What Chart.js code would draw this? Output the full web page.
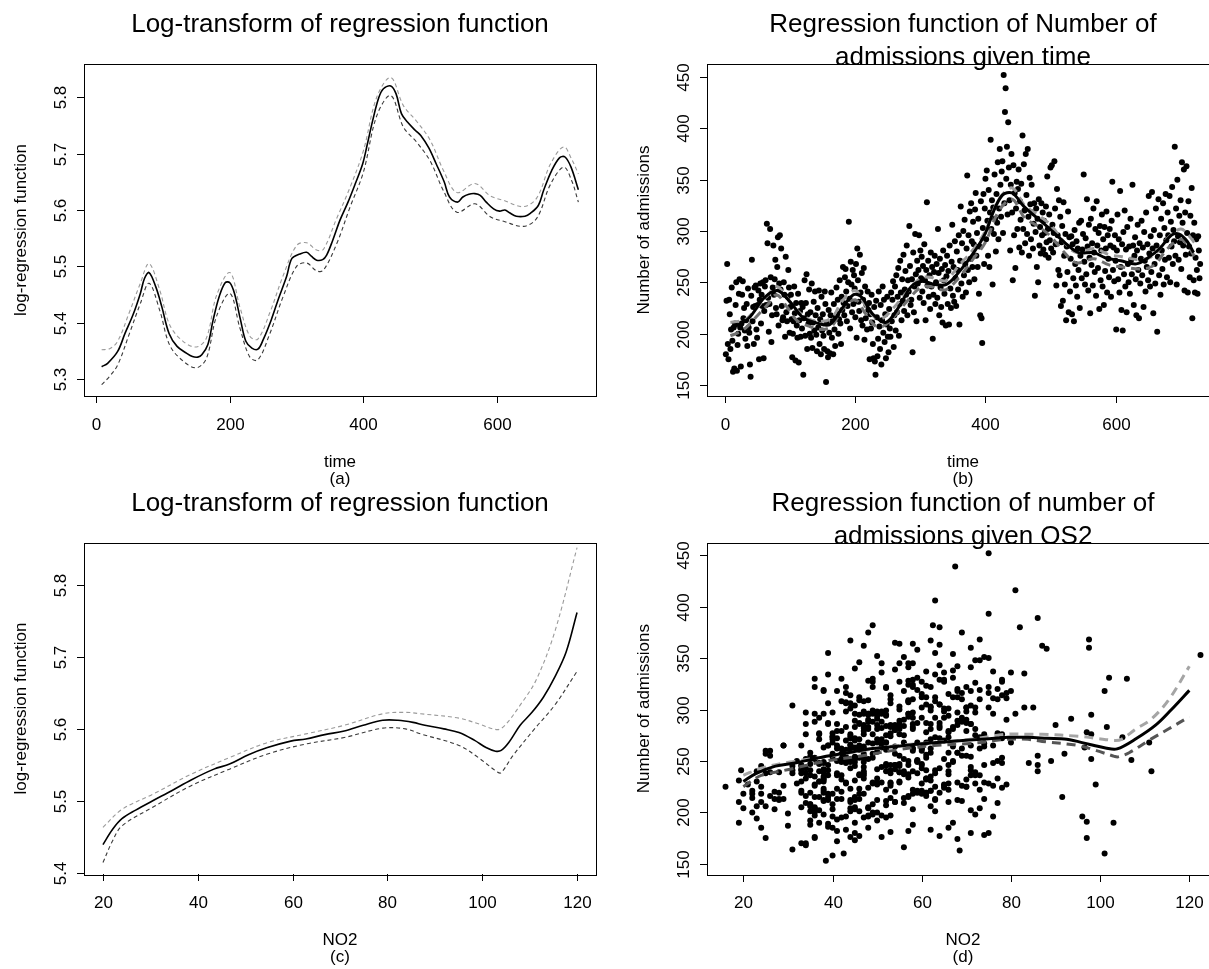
<!DOCTYPE html>
<html><head><meta charset="utf-8">
<script src="https://cdn.jsdelivr.net/npm/chart.js@4.4.1/dist/chart.umd.min.js"></script>
<style>
html,body{margin:0;padding:0;background:#fff;overflow:hidden;}
#wrap{position:relative;width:1209px;height:969px;overflow:hidden;background:#fff;}
canvas{position:absolute;left:0;top:0;}
</style></head>
<body><div id="wrap">
<canvas id="pa" width="1230" height="969"></canvas>
<canvas id="pb" width="1230" height="969"></canvas>
<canvas id="pc" width="1230" height="969"></canvas>
<canvas id="pd" width="1230" height="969"></canvas>
</div>
<script>
// ---------- tick labels ----------
const timeTicks = [0, 200, 400, 600];
const no2Ticks = [20, 40, 60, 80, 100, 120];
const logTicksA = [5.3, 5.4, 5.5, 5.6, 5.7, 5.8];
const logTicksC = [5.4, 5.5, 5.6, 5.7, 5.8];
const admTicks = [150, 200, 250, 300, 350, 400, 450];

// ---------- panel (a): log regression function vs time ----------
const aTime = [8,17,32,43,55,66,72,79,89,98,109,121,135,144,152,158,167,175,184,193,200,207,216,224,233,242,250,262,273,285,293,305,315,322,330,339,345,354,365,377,388,399,406,414,423,430,441,449,457,466,478,486,498,509,521,529,541,549,558,567,575,584,595,604,612,619,629,642,650,662,670,682,694,702,711,722];
const aFit = [5.322,5.328,5.349,5.381,5.414,5.452,5.478,5.489,5.464,5.429,5.381,5.358,5.346,5.340,5.339,5.343,5.361,5.405,5.446,5.471,5.471,5.452,5.405,5.367,5.355,5.353,5.370,5.405,5.443,5.482,5.514,5.522,5.525,5.518,5.511,5.512,5.520,5.546,5.582,5.614,5.647,5.682,5.717,5.759,5.799,5.815,5.820,5.806,5.771,5.756,5.741,5.732,5.710,5.682,5.650,5.623,5.614,5.623,5.628,5.629,5.626,5.614,5.602,5.598,5.600,5.595,5.589,5.589,5.594,5.608,5.635,5.670,5.693,5.694,5.676,5.636];
const bandTime = [8,20,32,50,66,79,95,110,130,150,165,180,200,215,230,242,260,280,300,315,330,340,360,380,400,420,441,460,480,500,520,540,567,590,610,640,660,680,700,712,722];
const aUpper = [5.352,5.354,5.367,5.420,5.470,5.505,5.458,5.396,5.367,5.357,5.373,5.448,5.489,5.428,5.376,5.371,5.418,5.484,5.537,5.542,5.529,5.530,5.585,5.640,5.705,5.800,5.835,5.785,5.757,5.724,5.670,5.631,5.647,5.625,5.617,5.606,5.622,5.681,5.712,5.690,5.664];
const aLower = [5.290,5.305,5.325,5.382,5.434,5.470,5.422,5.360,5.332,5.320,5.337,5.411,5.452,5.391,5.339,5.334,5.381,5.447,5.500,5.506,5.492,5.493,5.540,5.605,5.667,5.767,5.803,5.747,5.720,5.687,5.634,5.596,5.611,5.588,5.580,5.571,5.586,5.645,5.676,5.652,5.614];

// ---------- panel (b): regression function of admissions vs time ----------
const bTime = [12,36,60,80,101,119,143,161,179,197,209,227,247,268,286,304,322,340,358,382,400,411,426,441,459,477,501,525,543,566,584,608,632,650,668,686,698,710,720];
const bFit = [206,215,235,242,230,216,210,209,224,238,236,219,211,227,246,251,248,248,259,279,298,317,335,337,324,314,301,287,279,279,274,271,268,274,283,296,297,290,279];
const bUpper = [211,212,214,226,238,246,235,223,214,212,216,232,242,228,216,215,226,241,254,255,252,252,267,281,300,330,342,325,316,306,290,279,283,277,275,272,277,293,302,296,288];
const bLower = [198,201,206,218,229,238,226,213,207,204,208,224,233,220,208,207,217,232,245,246,243,243,255,272,289,319,331,313,305,295,280,269,273,267,265,263,267,283,292,285,274];

// daily number of admissions (day 1..730)
const admissions = [
180,232,268,190,175,233,219,185,204,245, 193,163,206,166,210,228,250,164,189,200,
239,253,206,168,210,238,251,215,225,203, 195,213,229,188,244,206,201,170,158,237,
272,212,226,190,245,227,247,204,196,228, 242,175,233,249,210,238,227,250,176,222,
246,252,228,307,288,235,202,229,302,255, 192,218,245,286,238,253,272,225,219,265,
294,208,249,296,243,283,227,213,216,250, 238,197,275,221,212,236,262,245,201,226,
238,214,177,200,212,246,220,174,230,208, 196,239,172,213,222,197,230,205,226,160,
215,252,198,230,258,185,219,210,243,200, 221,196,249,186,211,231,203,241,218,199,
183,225,206,242,190,214,180,236,203,219, 198,185,241,229,153,210,183,177,223,201,
181,218,240,196,212,180,229,204,188,216, 245,219,233,200,214,252,210,190,236,223,
265,230,218,255,263,241,212,227,250,309, 234,205,270,248,221,262,229,257,244,216,
268,196,283,252,231,222,277,240,213,259, 208,233,264,194,246,215,228,204,241,223,
230,175,219,205,238,211,190,176,226,173, 160,232,216,178,195,241,207,185,228,170,
213,246,201,233,192,219,176,209,236,197, 182,224,205,197,240,212,233,251,187,218,
246,203,257,221,236,264,198,229,271,240, 213,253,232,277,222,243,261,238,286,218,
252,241,305,266,228,233,253,182,279,221, 246,297,258,212,271,249,262,296,235,281,
254,275,241,266,230,287,252,213,262,328, 247,271,236,257,224,279,246,265,195,238,
260,276,229,250,268,235,302,259,218,273, 245,226,263,211,281,252,239,267,208,256,
276,229,261,209,286,244,225,270,306,237, 265,231,290,254,227,280,262,243,296,209,
271,324,249,288,236,300,257,311,268,240, 283,354,262,296,250,319,273,327,290,265,
309,287,253,321,337,276,298,265,312,239, 285,218,329,215,191,303,336,268,322,351,
292,359,310,276,340,265,318,389,302,330, 248,323,297,355,312,280,336,308,367,292,
322,380,345,314,358,368,298,452,327,416, 439,351,382,316,406,362,330,281,345,375,
318,252,364,296,337,264,322,348,302,341, 360,284,329,311,346,279,393,302,365,320,
288,375,335,297,380,314,276,352,326,292, 345,318,283,307,327,237,299,322,265,312,
250,331,286,304,278,327,296,318,282,310, 298,277,324,289,353,302,274,316,291,362,
283,364,306,279,298,368,322,287,247,341, 296,262,330,257,314,227,289,305,232,328,
276,248,297,213,285,260,319,221,294,241, 273,295,219,287,254,212,301,268,247,290,
236,283,262,308,225,276,310,254,282,297, 355,270,248,293,258,331,285,242,306,274,
220,312,267,288,247,322,279,260,302,237, 329,286,264,298,224,305,252,281,316,246,
292,228,304,261,283,319,240,296,273,255, 302,286,236,310,348,262,284,251,296,271,
204,281,316,253,292,240,339,265,223,287, 203,299,258,320,246,282,221,304,268,250,
285,239,312,272,258,345,286,228,276,294, 253,218,281,306,262,215,288,249,273,310,
257,284,226,299,271,241,318,265,287,252, 334,278,246,295,260,338,283,220,301,268,
249,322,286,202,275,331,257,296,238,312, 281,263,327,248,303,272,336,291,255,318,
296,274,334,250,309,285,343,268,301,290, 382,276,322,248,350,295,272,315,289,330,
263,367,308,286,360,242,318,277,363,298, 240,329,285,255,315,278,342,215,296,252,
308,240,274,292,262,239,295,281,254,268];

// daily NO2 level (day 1..730)
const no2 = [
45,38,52,19,36,61,33,66,48,55, 41,68.5,35,56,24,43,59,31,39,50,
28,47,62,34,19,53,44,37,16,58, 42,74,49,35,71,23,46,33,40,57,
64,39,69,45,52,36,60,20,43,32, 54,25,47,38,66,63,50,41,36,58,
33,45,72,57,49,62,37,43,70,26, 35,20,24,46,59,61,44,63,38,29,
52,40,67,48,34,55,21,42,61,77, 47,36,72,60,50,39,58,33,44,65,
31,53,46,22,38,60,42,68,55,35, 48,26,41,63,73,51,37,45,29,42.5,
57,34,49,23,66,40,64,54,44,36, 62,76,47,39,52,19,45,35,58,30,
43,70,25,50,37,56,71,46,27,61, 38,48,33,55,38.5,44,62,64,41,35,
53,24,47,40,68,75,50,36,58,26, 45,59,34,49,22,42,54,67,71,38,
46,33,60,70,51,39,44,65,32,48, 57,36,43,78,62,41,53,25,47,34,
50,96,58,65,45,66,40,52,28,43, 35,61,47,23,54,39,49,73,63,44,
38,97,61,48,41,69,103,51,36,45, 101,42,57,74,47,19.5,52,24,60,34,
46,39,63,77,50,28,44,56,35,48, 41,65,33,53,66,45,38,59,30,47,
54,36,49,22,42,67,72,51,40,58, 29,46,61,37,52,64,43,25,55,39,
48,31,64,44,75,50,36,57,42,33, 53,40,68,28,46,59,69,49,38,62,
45,56,71,51,37,70,43,27,58,48, 35,62,41,54,78,47,66,39,52,33,
60,44,68,57,48,36,72,50,40,63, 31,53,45,38,67,42,55,74,49,61,
37,74,46,34,58,51,70,65,43,56, 39,62,48,71,79,54,44,60,36,77,
50,58,42,69,73,55,47,76,40,86, 53,67,73,45,59,38,66,49,79,44,
57,64,78,52,76,47,70,41,61,55, 68,46,58,91.5,97,62,51,80,43,74,
60,88,53,78,45,71,56,86,85,49, 84,61,72,39,67,54,80,57,44,69,
75,64,51,78,59,73,47,75,65,81, 67.5,56,62.5,79,63,87,42,72,58,48,
68,98,55,76,61,74,49,73,83,57, 71,52,65,79,46,70,75,60,54,77,
48,69,83,58,82,44,74,50,72,63, 55,80,67,43,78,66,62,52,76,46,
67,59,71,45,66,55,81,38,64,73, 50,77,57,68,122.5,70,53,75,93.5,47,
101.5,58,44,66,51,97.5,62,39,55,71, 47,60,36,92,53,99,45,64,70,57,
49,76,68,41,54,26,73,38,50,61, 105,46,35,59,43,63,65,52,37,56,
72,48,62,42,24,55,69,40,51,34, 63,45,38,57,68,67,47,33,53,44,
27,60,49,36,52,70,41,58,75,46, 64,39,54,65,48,61,35,50,43,57,
37,66,71,52,45,59,23,48,40,55, 62,34,47,77,72,42,56,107,38,51,
44,58,69,49,65,37,54,29,46,61, 40,52,35,68,74,47,59,31,56,43,
50,38,63,45,62,57,41,53,34,66, 47,22,55,39,60,36,51,44,73,58,
42,64,76,49,37,53,71,33,46,56, 39,61,86,48,25,67,43,54,66,59,
45,36,62,71,52,102,40,57,34,68, 48,38,60,43,55,78,65,50,86,41,
57,74,63,89,46,53,64,61,44,70, 49,98,58,37,75,52,41,66,55,106,
96.5,62,47,71,97.5,38,101,53,64,43, 56,78,90,69,60,97,68,45,51,36,
63,111.5,40,58,47,72,98,54,35,111];

// ---------- panel (c): log regression function vs NO2 ----------
const cNO2 = [20,22,24,26.9,30.5,34.5,38.6,43.4,46.7,50.7,54.7,59.6,62.8,66.8,70.9,74.9,79,82.2,85.4,87.9,91.9,95.1,98.4,100.8,102.8,104,105.6,108,110.5,112.9,115.3,117.7,120];
const cFit = [5.439,5.460,5.475,5.487,5.500,5.514,5.529,5.544,5.551,5.564,5.574,5.583,5.586,5.592,5.597,5.605,5.612,5.612,5.609,5.605,5.600,5.595,5.584,5.574,5.569,5.570,5.581,5.605,5.623,5.644,5.672,5.707,5.762];
const cUpNO2 = [20,24,30.5,38.6,46.7,54.7,62.8,70.9,79,83.8,87,95.1,99.2,103.2,104.8,108,111.3,115.3,120];
const cUpper = [5.463,5.488,5.509,5.537,5.560,5.581,5.593,5.605,5.621,5.623,5.621,5.615,5.607,5.599,5.605,5.633,5.667,5.735,5.852];
const cLoNO2 = [20,22,24,30.5,38.6,46.7,54.7,62.8,70.9,79,83.8,87,95.1,99.2,103.2,104,106.5,111.3,115.3,120];
const cLower = [5.414,5.444,5.465,5.491,5.521,5.544,5.565,5.579,5.588,5.601,5.600,5.593,5.577,5.560,5.540,5.539,5.563,5.602,5.633,5.680];

// ---------- panel (d): regression function of admissions vs NO2 ----------
const dNO2 = [20,22.9,27.2,31.6,36.8,42,49,54.2,59.4,66.4,73.4,79.4,83.8,88.1,92.5,97.7,101.2,103.8,108.2,112.5,116,120];
const dFit = [230,238,245,248,253,257,262,264,266.5,269,271,273,273,272,271,266,262.6,261.7,272,285,300,318.6];
const dUpper = [236,243,249,254,260,265,268,271,276,276,276,274,272,270,271,281,290,309,342];
const dLower = [225,231,236,242,250,255,261,265,267,271,271,269,265,260,254.5,254,258,271,281,293];

// ---------- drawing ----------
const FONT = '"Liberation Sans", Arial, Helvetica, sans-serif';
const W = 1230, H = 969;
const pts = (xs, ys) => xs.map((x, i) => ({x: x, y: ys[i]}));
const days = admissions.map((v, i) => i + 1);

function lineDs(xs, ys, color, width, dash) {
  return {data: pts(xs, ys), showLine: true, borderColor: color, borderWidth: width,
    borderDash: dash || [], pointRadius: 0, tension: 0.35, fill: false,
    borderCapStyle: 'butt', borderJoinStyle: 'round'};
}
function dotDs(xs, ys) {
  return {data: pts(xs, ys), showLine: false, pointRadius: 3, pointBorderWidth: 0,
    backgroundColor: '#000', pointBackgroundColor: '#000', borderColor: '#000'};
}

const deco = {
  id: 'deco',
  afterDatasetsDraw(chart, args, o) {
    const ctx = chart.ctx, b = o.box;
    const xs = chart.scales.x, ys = chart.scales.y;
    ctx.save();
    ctx.strokeStyle = '#000'; ctx.fillStyle = '#000'; ctx.lineWidth = 1;
    ctx.strokeRect(Math.round(b.l) + 0.5, Math.round(b.t) + 0.5, Math.round(b.r - b.l), Math.round(b.b - b.t));
    ctx.font = '17px ' + FONT; ctx.textAlign = 'center'; ctx.textBaseline = 'middle';
    o.xTicks.forEach(v => {
      const px = Math.round(xs.getPixelForValue(v)) + 0.5;
      ctx.beginPath(); ctx.moveTo(px, Math.round(b.b)); ctx.lineTo(px, Math.round(b.b) + 7); ctx.stroke();
      ctx.fillText(String(v), px, b.b + 29);
    });
    o.yTicks.forEach(v => {
      const py = Math.round(ys.getPixelForValue(v)) + 0.5;
      ctx.beginPath(); ctx.moveTo(Math.round(b.l) - 7, py); ctx.lineTo(Math.round(b.l), py); ctx.stroke();
      ctx.save(); ctx.translate(b.l - 23, py); ctx.rotate(-Math.PI / 2);
      ctx.fillText(o.yFmt(v), 0, 0); ctx.restore();
    });
    ctx.fillText(o.xlab, (b.l + b.r) / 2, b.b + 66);
    ctx.fillText(o.sub, (b.l + b.r) / 2, b.b + 83);
    ctx.save(); ctx.translate(b.l - 63, (b.t + b.b) / 2); ctx.rotate(-Math.PI / 2);
    ctx.fillText(o.ylab, 0, 0); ctx.restore();
    ctx.font = '26px ' + FONT;
    o.title.forEach((t, i) => ctx.fillText(t, (b.l + b.r) / 2, b.t - 39 + i * 33));
    ctx.restore();
  }
};

function makePanel(id, box, xr, yr, datasets, deco_opts) {
  deco_opts.box = box;
  new Chart(document.getElementById(id), {
    type: 'scatter',
    data: {datasets: datasets},
    options: {
      responsive: false, animation: false, devicePixelRatio: 1, events: [],
      layout: {padding: {left: box.l, top: box.t, right: W - box.r, bottom: H - box.b}},
      plugins: {legend: {display: false}, tooltip: {enabled: false}, deco: deco_opts},
      scales: {
        x: {type: 'linear', display: false, min: xr[0], max: xr[1]},
        y: {type: 'linear', display: false, min: yr[0], max: yr[1]}
      }
    },
    plugins: [deco]
  });
}

const f1 = v => v.toFixed(1), f0 = v => String(v);

makePanel('pa', {l: 84, r: 596, t: 64, b: 396}, [-18.4, 748.4], [5.270, 5.859], [
  lineDs(aTime, aFit, '#000', 1.6),
  lineDs(bandTime, aUpper, '#9a9a9a', 1.1, [4, 3]),
  lineDs(bandTime, aLower, '#3a3a3a', 1.1, [4, 3])
], {xTicks: timeTicks, yTicks: logTicksA, yFmt: f1, title: ['Log-transform of regression function'],
    xlab: 'time', sub: '(a)', ylab: 'log-regression function'});

makePanel('pb', {l: 707, r: 1219, t: 64, b: 396}, [-28, 759], [139.3, 462.7], [
  lineDs(bTime, bFit, '#000', 3),
  lineDs(bandTime, bUpper, '#9a9a9a', 3, [9, 6]),
  lineDs(bandTime, bLower, '#707070', 3, [9, 6]),
  dotDs(days, admissions)
], {xTicks: timeTicks, yTicks: admTicks, yFmt: f0, title: ['Regression function of Number of', 'admissions given time'],
    xlab: 'time', sub: '(b)', ylab: 'Number of admissions'});

makePanel('pc', {l: 84, r: 596, t: 542.7, b: 874.3}, [16, 124], [5.3977, 5.859], [
  lineDs(cNO2, cFit, '#000', 1.6),
  lineDs(cUpNO2, cUpper, '#9a9a9a', 1.1, [4, 3]),
  lineDs(cLoNO2, cLower, '#3a3a3a', 1.1, [4, 3])
], {xTicks: no2Ticks, yTicks: logTicksC, yFmt: f1, title: ['Log-transform of regression function'],
    xlab: 'NO2', sub: '(c)', ylab: 'log-regression function'});

makePanel('pd', {l: 707, r: 1219, t: 542.7, b: 874.5}, [11.85, 126.65], [139.6, 462.2], [
  lineDs(dNO2, dFit, '#000', 3),
  lineDs(cUpNO2, dUpper, '#a5a5a5', 3, [9, 6]),
  lineDs(cLoNO2, dLower, '#555555', 3, [9, 6]),
  dotDs(no2, admissions)
], {xTicks: no2Ticks, yTicks: admTicks, yFmt: f0, title: ['Regression function of number of', 'admissions given OS2'],
    xlab: 'NO2', sub: '(d)', ylab: 'Number of admissions'});
</script>
</body></html>
